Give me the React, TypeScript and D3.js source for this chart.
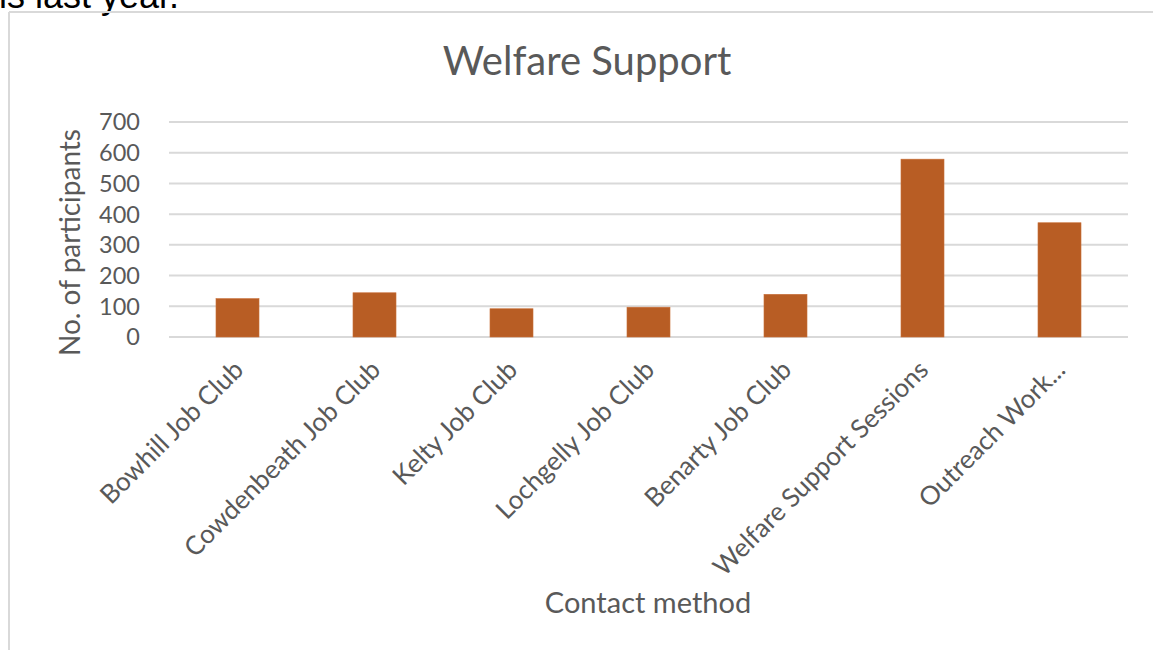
import React from "react";
import * as d3 from "d3";

const categories = [
  "Bowhill Job Club",
  "Cowdenbeath Job Club",
  "Kelty Job Club",
  "Lochgelly Job Club",
  "Benarty Job Club",
  "Welfare Support Sessions",
  "Outreach Work...",
];
const participants = [125, 144, 92, 97, 139, 579, 372];
const yTicks = [0, 100, 200, 300, 400, 500, 600, 700];

const W = 1153;
const H = 650;
const FONT = "Lato, 'Open Sans', sans-serif";
const GREY = "#595959";

export default function App() {
  const x = d3
    .scaleBand<string>()
    .domain(categories)
    .range([169, 1128])
    .paddingInner(0.686)
    .paddingOuter(0.343);
  const y = d3.scaleLinear().domain([0, 700]).range([337, 122]);

  return (
    <svg
      width={W}
      height={H}
      style={{ position: "absolute", left: 0, top: 0, background: "#fff" }}
    >
      <text x={-1} y={8} fontFamily="'Liberation Sans', Arial, sans-serif" fontSize={36} fill="#000">
        is last year.
      </text>
      {/* chart frame */}
      <line x1={9} y1={12} x2={W} y2={12} stroke="#d9d9d9" strokeWidth={2} />
      <line x1={9} y1={12} x2={9} y2={H} stroke="#d9d9d9" strokeWidth={2} />

      <text x={587} y={75} textAnchor="middle" fontFamily={FONT} fontSize={40} fill={GREY}>
        Welfare Support
      </text>

      {yTicks.map((t) => (
        <g key={t}>
          <line x1={169} x2={1128} y1={y(t)} y2={y(t)} stroke="#d9d9d9" strokeWidth={2} />
          <text
            x={140}
            y={y(t)}
            dy="0.36em"
            textAnchor="end"
            fontFamily={FONT}
            fontSize={23.5}
            fill={GREY}
          >
            {t}
          </text>
        </g>
      ))}

      {categories.map((c, i) => (
        <rect
          key={c}
          x={x(c)}
          y={y(participants[i])}
          width={x.bandwidth()}
          height={y(0) - y(participants[i])}
          fill="#b85d24"
          stroke="#c9703a"
          strokeWidth={0.6}
        />
      ))}

      {categories.map((c) => {
        const cx = (x(c) as number) + x.bandwidth() / 2;
        return (
          <text
            key={c}
            transform={`translate(${cx + 1},${y(0) + 28}) rotate(-45)`}
            dy="0.35em"
            textAnchor="end"
            fontFamily={FONT}
            fontSize={26}
            fill={GREY}
          >
            {c}
          </text>
        );
      })}

      <text
        transform={`translate(80,${(122 + 337) / 2 + 13}) rotate(-90)`}
        textAnchor="middle"
        fontFamily={FONT}
        fontSize={28}
        fill={GREY}
      >
        No. of participants
      </text>

      <text x={648} y={613} textAnchor="middle" fontFamily={FONT} fontSize={29} fill={GREY}>
        Contact method
      </text>
    </svg>
  );
}
